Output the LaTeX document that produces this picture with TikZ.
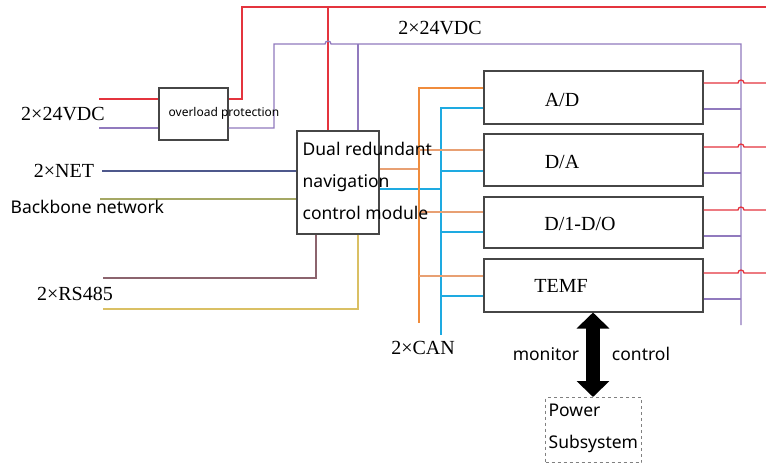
\documentclass[tikz,border=0pt]{standalone}
\usepackage{fontspec}
\setmainfont{Liberation Serif}
\newfontfamily\sansf{Noto Sans}
\usetikzlibrary{arrows.meta}
\definecolor{cred}{RGB}{228,52,62}
\definecolor{cpurple}{RGB}{145,122,190}
\definecolor{cnet}{RGB}{78,88,140}
\definecolor{colive}{RGB}{165,168,100}
\definecolor{cmauve}{RGB}{140,100,110}
\definecolor{cmustard}{RGB}{218,192,100}
\definecolor{corange}{RGB}{240,140,60}
\definecolor{corlight}{RGB}{232,160,115}
\definecolor{cblue}{RGB}{30,170,225}
\definecolor{boxgray}{RGB}{70,70,70}
\begin{document}
\begin{tikzpicture}[x=1pt,y=-1pt,line width=1.3pt,
  box/.style={draw=boxgray,line width=1.5pt,fill=white,inner sep=0pt,anchor=north west},
  serlbl/.style={font=\fontsize{20}{22}\selectfont,inner sep=0pt},
  sanslbl/.style={font=\sansf\fontsize{17.5}{32}\selectfont,inner sep=0pt,align=left}]
\fill[white] (0,0) rectangle (766,464);
\useasboundingbox (0,0) rectangle (766,464);

% boxes
\node[box,minimum width=69pt,minimum height=52pt] (ovl) at (158,87) {};
\node[box,minimum width=82pt,minimum height=103pt] (nav) at (296,130) {};
\node[box,minimum width=219pt,minimum height=53pt] (ad) at (483,70) {};
\node[box,minimum width=219pt,minimum height=52pt] (da) at (483,133) {};
\node[box,minimum width=219pt,minimum height=51pt] (dio) at (483,196) {};
\node[box,minimum width=219pt,minimum height=53pt] (temf) at (483,258) {};
\node[box,draw=gray,line width=1pt,dashed,minimum width=96pt,minimum height=65pt] (power) at (545,397) {};

% free ends
\coordinate (inR) at (99,99);
\coordinate (inP) at (99,128);
\coordinate (redR) at (766,7);
\coordinate (netL) at (102,171);
\coordinate (bbL) at (100,199);
\coordinate (rsA) at (103,278);
\coordinate (rsB) at (103,309);
\coordinate (canOb) at (419,323);
\coordinate (canBb) at (441,335);
\coordinate (purB) at (741,325);

% power feeds
\draw[cred] (inR) -- (ovl.west |- inR);
\draw[cpurple] (inP) -- (ovl.west |- inP);
\draw[cred] (ovl.east |- 0,99) -- (242,99) -- (242,7) -- (redR);
\draw[cred] (328,7) -- (nav.north -| 328,0);
\draw[cpurple] (ovl.east |- 0,128) -- (274,128) -- (274,44) -- (325,44)
  arc[start angle=180,end angle=0,radius=3pt] -- (741,44) -- (purB);
\draw[cpurple] (358,44) -- (nav.north -| 358,0);

% network / serial
\draw[cnet] (netL) -- (nav.west |- netL);
\draw[colive] (bbL) -- (nav.west |- bbL);
\draw[cmauve] (nav.south -| 316,0) -- (316,278) -- (rsA);
\draw[cmustard] (nav.south -| 358,0) -- (358,309) -- (rsB);

% CAN buses
\draw[corlight] (nav.east |- 0,169) -- (419,169);
\draw[cblue] (nav.east |- 0,189) -- (441,189);
\draw[corange,line width=2.5pt] (ad.west |- 0,88) -- (419,88) -- (canOb);
\draw[cblue,line width=2.5pt] (ad.west |- 0,108) -- (441,108) -- (canBb);
\foreach \b/\yo/\yb in {da/150/171,dio/212/232,temf/276/296}{
  \draw[corlight] (419,\yo) -- (\b.west |- 0,\yo);
  \draw[cblue] (441,\yb) -- (\b.west |- 0,\yb);
}

% right side power
\foreach \b/\yr/\yp in {ad/83/109,da/147/173,dio/210/236,temf/273/299}{
  \draw[cred] (\b.east |- 0,\yr) -- (738,\yr) arc[start angle=180,end angle=0,radius=3pt] -- (766,\yr);
  \draw[cpurple] (\b.east |- 0,\yp) -- (741,\yp);
}

% double arrow
\coordinate (ax) at (593,0);
\draw[line width=14pt,{Triangle[width=32pt,length=16pt]}-{Triangle[width=32pt,length=16pt]}]
  (temf.south -| ax) -- (power.north -| ax);

% labels
\node[serlbl] (l24a) at (63,114) {2×24VDC};
\node[serlbl] (l24b) at (440,28) {2×24VDC};
\node[serlbl] (lnet) at (64,171) {2×NET};
\node[serlbl] (lrs) at (75,294) {2×RS485};
\node[serlbl] (lcan) at (423,348) {2×CAN};
\node[serlbl] (tad) at (562,100) {A/D};
\node[serlbl] (tda) at (562,162) {D/A};
\node[serlbl] (tdio) at (580,224) {D/1-D/O};
\node[serlbl] (ttemf) at (561,286) {TEMF};
\node[font=\sansf\fontsize{12}{14}\selectfont,inner sep=0pt] (tovl) at (224,113) {overload protection};
\node[sanslbl,anchor=west] (tbb) at (10,207) {Backbone network};
\node[sanslbl,anchor=west] (tnav) at (302,181) {Dual redundant\\navigation\\control module};
\node[sanslbl] (tmon) at (546,354) {monitor};
\node[sanslbl] (tctl) at (641,354) {control};
\node[sanslbl,anchor=west] (tpow) at (548,428) {Power\\Subsystem};
\end{tikzpicture}
\end{document}
